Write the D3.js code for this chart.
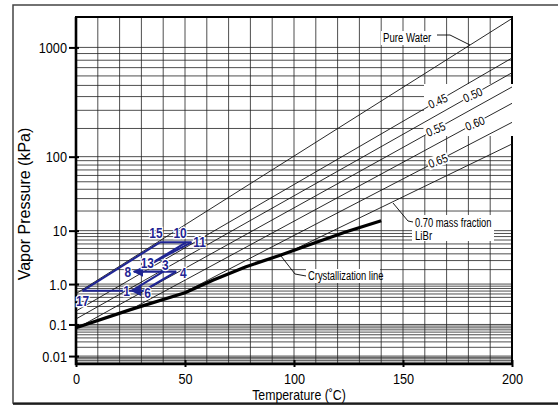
<!DOCTYPE html>
<html>
<head>
<meta charset="utf-8">
<script src="https://cdn.jsdelivr.net/npm/d3@7"></script>
<style>
body { margin: 0; background: #fff; }
text { font-family: "Liberation Sans", Arial, sans-serif; }
</style>
</head>
<body>
<svg id="chart" width="558" height="405"></svg>
<script>
// axis ticks
var xTicks = [0, 50, 100, 150, 200];
var yTicks = [0.01, 0.1, 1, 10, 100, 1000];
var yTickLabels = ["0.01", "0.1", "1.0", "10", "100", "1000"];

// solution lines, [temperature C, pressure kPa] at each end
var lineNames = ["Pure Water", "0.45", "0.50", "0.55", "0.60", "0.65", "0.70"];
var lineStart = [[0, 0.61], [0, 0.23], [0, 0.142], [2, 0.0885], [24, 0.233], [49, 0.627], [100, 4.76]];
var lineEnd = [[200, 1597], [200, 832], [200, 637], [200, 485], [200, 348], [200, 230], [200, 138]];

// crystallization line
var crystT = [0, 25, 50, 63, 78, 94, 109, 124, 140];
var crystP = [0.081, 0.25, 0.64, 1.22, 2.29, 3.81, 6.16, 9.63, 14.3];

// cycle state points
var stateNames = ["17", "1", "6", "3", "4", "8", "13", "15", "10", "11"];
var stateT = [3, 25.5, 31, 40, 46, 26.5, 35, 38.5, 50.5, 53];
var stateP = [0.71, 0.71, 0.71, 1.82, 1.82, 1.82, 2.7, 6.4, 6.4, 6.4];
var stateLinks = [["17", "1"], ["6", "1"], ["1", "3"], ["6", "4"], ["4", "8"], ["17", "15"], ["15", "11"], ["11", "13"], ["10", "13"]];
var arrowLinks = ["6-1", "4-8"];

var svg = d3.select("#chart");
var blue = "#1f2593";

var x = d3.scaleLinear().domain([0, 200]).range([76, 512]);
// pressure axis is laid out by saturation temperature of water (Duhring chart)
var ySat = d3.scaleLinear().domain([-51, 201.1]).range([364, 17]);
function tsat(p) { return 1730.63 / (8.07131 - Math.log10(p / 0.133322)) - 233.426; }
function y(p) { return ySat(tsat(p)); }
var yAxisScale = d3.scaleLog().domain(yTicks).range(yTicks.map(y));

// squeeze text to look like the narrow type of the original
function narrow(sel, f) {
  sel.each(function() {
    var w = this.getComputedTextLength();
    d3.select(this).attr("textLength", w * f).attr("lengthAdjust", "spacingAndGlyphs");
  });
}

// outer frame
svg.append("rect").attr("x", 13).attr("y", 5).attr("width", 560).attr("height", 398)
  .attr("fill", "none").attr("stroke", "#444").attr("stroke-width", 1.5);

// grid
var grid = svg.append("g").attr("stroke", "#222").attr("stroke-width", 0.8);
d3.range(10, 200, 10).forEach(function(t) {
  grid.append("line").attr("x1", x(t)).attr("x2", x(t)).attr("y1", 17).attr("y2", 364);
});
var gridP = [];
[-3, -2, -1, 0, 1, 2].forEach(function(k) {
  d3.range(1, 10).forEach(function(m) { gridP.push(m * Math.pow(10, k)); });
});
gridP.push(1000);
gridP.filter(function(p) { return y(p) < 363 && y(p) > 18; }).forEach(function(p) {
  grid.append("line").attr("x1", 76).attr("x2", 512).attr("y1", y(p)).attr("y2", y(p));
});

// plot border
svg.append("rect").attr("x", 76).attr("y", 17).attr("width", 436).attr("height", 347)
  .attr("fill", "none").attr("stroke", "#000").attr("stroke-width", 2);
svg.append("path").attr("d", "M76,17 V364 H512").attr("fill", "none").attr("stroke", "#000").attr("stroke-width", 2.6);

// blank area behind the fraction labels
svg.append("rect").attr("x", 424).attr("y", 84).attr("width", 92).attr("height", 52).attr("fill", "#fff");

// solution lines
var line = d3.line().x(function(d) { return x(d[0]); }).y(function(d) { return y(d[1]); });
lineNames.forEach(function(n, i) {
  svg.append("path").attr("d", line([lineStart[i], lineEnd[i]]))
    .attr("fill", "none").attr("stroke", "#111").attr("stroke-width", 0.9);
});

// crystallization line
svg.append("path").attr("d", line(crystT.map(function(t, i) { return [t, crystP[i]]; })))
  .attr("fill", "none").attr("stroke", "#000").attr("stroke-width", 3.2).attr("stroke-linejoin", "round");

// labels on the solution lines
function angleOf(i) {
  var a = [x(lineStart[i][0]), y(lineStart[i][1])], b = [x(lineEnd[i][0]), y(lineEnd[i][1])];
  return Math.atan2(b[1] - a[1], b[0] - a[0]) * 180 / Math.PI;
}
var fracAt = { "0.45": 166, "0.50": 182, "0.55": 165, "0.60": 183, "0.65": 166 };
Object.keys(fracAt).forEach(function(n) {
  var i = lineNames.indexOf(n);
  var t = fracAt[n];
  var f = (t - lineStart[i][0]) / (lineEnd[i][0] - lineStart[i][0]);
  var yy = ySat(tsat(lineStart[i][1]) + f * (tsat(lineEnd[i][1]) - tsat(lineStart[i][1])));
  var g = svg.append("g").attr("transform", "translate(" + x(t) + "," + yy + ") rotate(" + (angleOf(i) + 6) + ")");
  g.append("rect").attr("x", -11).attr("y", -6).attr("width", 22).attr("height", 12).attr("fill", "#fff");
  g.append("text").attr("text-anchor", "middle").attr("dy", "0.35em").attr("font-size", 12).text(n).call(narrow, 0.85);
});

// pure water callout
svg.append("rect").attr("x", 381).attr("y", 31).attr("width", 54).attr("height", 14).attr("fill", "#fff");
svg.append("text").attr("x", 383).attr("y", 42).attr("font-size", 12).text("Pure Water").call(narrow, 0.8);
svg.append("path").attr("d", "M437,35 L450,35 L470,45").attr("fill", "none").attr("stroke", "#000").attr("stroke-width", 0.9);

// 0.70 callout
svg.append("rect").attr("x", 412).attr("y", 215).attr("width", 82).attr("height", 26).attr("fill", "#fff");
svg.append("text").attr("x", 415).attr("y", 227).attr("font-size", 12).text("0.70 mass fraction").call(narrow, 0.78);
svg.append("text").attr("x", 415).attr("y", 240).attr("font-size", 12).text("LiBr").call(narrow, 0.8);
svg.append("path").attr("d", "M393,203 L408,221 L413,222").attr("fill", "none").attr("stroke", "#000").attr("stroke-width", 0.9);

// crystallization callout
svg.append("rect").attr("x", 306).attr("y", 269).attr("width", 74).attr("height", 14).attr("fill", "#fff");
svg.append("text").attr("x", 308).attr("y", 280).attr("font-size", 12).text("Crystallization line").call(narrow, 0.78);
svg.append("path").attr("d", "M281,256 L295,274 L306,276").attr("fill", "none").attr("stroke", "#000").attr("stroke-width", 0.9);

// cycle
svg.append("defs").append("marker").attr("id", "arr").attr("viewBox", "0 0 10 10")
  .attr("refX", 9).attr("refY", 5).attr("markerWidth", 5).attr("markerHeight", 5).attr("orient", "auto")
  .append("path").attr("d", "M0,0 L10,5 L0,10 z").attr("fill", blue);
function st(n) { var i = stateNames.indexOf(n); return [stateT[i], stateP[i]]; }
stateLinks.forEach(function(l) {
  var p = svg.append("path").attr("d", line([st(l[0]), st(l[1])]))
    .attr("fill", "none").attr("stroke", blue).attr("stroke-width", 2.1);
  if (arrowLinks.indexOf(l[0] + "-" + l[1]) >= 0) p.attr("marker-end", "url(#arr)");
});
var labelOff = { "17": [0, 10], "1": [-5, 0], "6": [4, 2], "3": [2, -7], "4": [7, 1], "8": [-6, 0], "13": [-5, 0], "15": [-4, -9], "10": [-6, -9], "11": [8, 0] };
stateNames.forEach(function(n) {
  var p = st(n), o = labelOff[n];
  svg.append("text").attr("x", x(p[0]) + o[0]).attr("y", y(p[1]) + o[1]).attr("dy", "0.35em")
    .attr("text-anchor", "middle").attr("font-size", 14.5).attr("font-weight", "bold")
    .attr("fill", blue).attr("stroke", "#fff").attr("stroke-width", 2.5).attr("paint-order", "stroke").text(n)
    .call(narrow, 0.82);
});

// axes
var gx = svg.append("g").attr("transform", "translate(0,360)")
  .call(d3.axisBottom(x).tickValues(xTicks).tickSize(7).tickPadding(6));
var gy = svg.append("g").attr("transform", "translate(79,0)")
  .call(d3.axisLeft(yAxisScale).tickValues(yTicks).tickSize(10).tickPadding(2)
    .tickFormat(function(d, i) { return yTickLabels[i]; }));
[gx, gy].forEach(function(g) {
  g.select(".domain").remove();
  g.selectAll(".tick line").attr("stroke", "#000").attr("stroke-width", 2);
  g.selectAll(".tick text").attr("font-size", 15.5).attr("fill", "#000")
    .style("font-family", '"Liberation Sans", Arial, sans-serif').call(narrow, 0.82);
});

svg.append("text").attr("transform", "translate(30,204) rotate(-90)").attr("text-anchor", "middle")
  .attr("font-size", 16).text("Vapor Pressure (kPa)");
svg.append("text").attr("x", 299).attr("y", 400).attr("text-anchor", "middle")
  .attr("font-size", 15).text("Temperature (\u02daC)").call(narrow, 0.82);
svg.append("line").attr("x1", 13).attr("x2", 558).attr("y1", 404).attr("y2", 404).attr("stroke", "#000").attr("stroke-width", 1.5);
</script>
</body>
</html>
